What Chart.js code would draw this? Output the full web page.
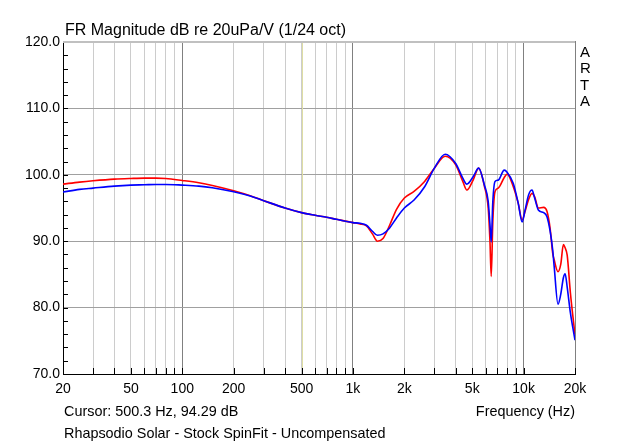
<!DOCTYPE html>
<html>
<head>
<meta charset="utf-8">
<script src="https://cdn.jsdelivr.net/npm/chart.js@4/dist/chart.umd.min.js"></script>
<style>
html,body{margin:0;padding:0;background:#fff;}
#wrap{width:640px;height:444px;position:relative;}
</style>
</head>
<body>
<div id="wrap"><canvas id="c" width="640" height="444"></canvas></div>
<script>
// ---- data ----
const freqs = [20,25,30,40,50,60,70,80,100,125,150,200,250,300,400,500,600,700,800,1000,1100,1200,1300,1390,1500,1640,1800,2000,2280,2630,3000,3470,4000,4400,4650,5060,5450,5900,6200,6350,6460,6600,6800,7100,7700,8000,8700,9300,9800,10200,10700,11200,11600,12200,13100,13700,14300,14800,15100,15900,16500,17100,17500,18000,18800,20000];
const redDb = [98.6,98.9,99.1,99.35,99.45,99.5,99.5,99.45,99.15,98.8,98.4,97.6,96.85,96.1,95.0,94.3,93.9,93.6,93.3,92.8,92.6,92.3,91.1,90.0,90.4,92.4,94.8,96.5,97.5,99.0,101.0,102.8,101.5,99.0,97.7,99.2,101.0,98.2,95.0,90.0,84.7,93.0,97.5,98.0,99.6,100.1,98.2,95.7,93.2,94.5,96.3,97.2,96.7,95.0,95.1,94.5,91.9,88.2,87.2,85.4,86.5,89.5,89.0,87.9,82.2,75.9];
const blueDb = [97.4,97.8,98.0,98.3,98.45,98.5,98.55,98.55,98.45,98.3,98.05,97.45,96.8,96.1,95.0,94.3,93.9,93.6,93.3,92.8,92.7,92.4,91.5,90.9,91.1,92.0,93.5,95.0,96.2,98.2,101.0,103.1,101.7,99.5,98.6,99.7,101.0,98.4,96.0,92.5,89.9,96.0,99.0,99.2,100.7,100.4,98.7,95.7,92.9,94.7,97.0,97.7,96.5,94.7,94.3,93.7,91.5,88.7,86.2,80.5,82.0,84.5,85.1,83.1,79.2,75.1];
const gridFreqs = [20,30,40,50,60,70,80,90,100,200,300,400,500,600,700,800,900,1000,2000,3000,4000,5000,6000,7000,8000,9000,10000,20000];
const xTickLabels = {20:'20',50:'50',100:'100',200:'200',500:'500',1000:'1k',2000:'2k',5000:'5k',10000:'10k',20000:'20k'};
const yTicks = [70,80,90,100,110,120];
const cursorFreq = 500;
const titleText = 'FR Magnitude dB re 20uPa/V (1/24 oct)';
const cursorText = 'Cursor: 500.3 Hz, 94.29 dB';
const xTitle = 'Frequency (Hz)';
const caption = 'Rhapsodio Solar - Stock SpinFit - Uncompensated';
const brand = ['A','R','T','A'];

const FONT = '"Liberation Sans", Arial, sans-serif';

const decorPlugin = {
  id: 'decor',
  beforeDatasetsDraw(chart) {
    const {ctx, chartArea: a, scales: {x}} = chart;
    ctx.save();
    const cx = Math.round(x.getPixelForValue(cursorFreq)) + 0.5;
    ctx.strokeStyle = '#dedea4';
    ctx.lineWidth = 1;
    ctx.beginPath(); ctx.moveTo(cx, a.top); ctx.lineTo(cx, a.bottom); ctx.stroke();
    ctx.restore();
  },
  afterDraw(chart) {
    const {ctx, chartArea: a, scales: {x, y}} = chart;
    ctx.save();
    ctx.strokeStyle = '#c0c0c0';
    ctx.lineWidth = 2;
    ctx.beginPath(); ctx.moveTo(a.left, a.top); ctx.lineTo(a.right, a.top); ctx.stroke();
    ctx.strokeStyle = '#808080';
    ctx.lineWidth = 1;
    ctx.beginPath(); ctx.moveTo(a.right + 0.5, a.top - 1); ctx.lineTo(a.right + 0.5, a.bottom); ctx.stroke();
    ctx.strokeStyle = '#000';
    for (let v = 72; v < 120; v += 2) {
      const py = Math.round(y.getPixelForValue(v)) + 0.5;
      ctx.beginPath(); ctx.moveTo(a.left, py); ctx.lineTo(a.left + 5, py); ctx.stroke();
    }
    gridFreqs.forEach(f => {
      const px = Math.round(x.getPixelForValue(f)) + 0.5;
      ctx.beginPath(); ctx.moveTo(px, a.bottom); ctx.lineTo(px, a.bottom - 6); ctx.stroke();
    });
    ctx.fillStyle = '#000';
    ctx.textBaseline = 'alphabetic';
    ctx.textAlign = 'left';
    ctx.font = '16px ' + FONT;
    ctx.fillText(titleText, 65, 35);
    ctx.font = '14.4px ' + FONT;
    ctx.fillText(cursorText, 64, 416);
    ctx.fillText(caption, 64, 438);
    ctx.textAlign = 'right';
    ctx.fillText(xTitle, 575, 416);
    ctx.textAlign = 'left';
    ctx.font = '15px ' + FONT;
    brand.forEach((ch, i) => ctx.fillText(ch, 580, 57 + i * 16.4));
    ctx.restore();
  }
};

new Chart(document.getElementById('c'), {
  type: 'line',
  data: {
    datasets: [
      { label: 'blue', data: freqs.map((f, i) => ({x: f, y: blueDb[i]})), borderColor: '#0000ff', borderWidth: 1.6, pointRadius: 0, cubicInterpolationMode: 'monotone', fill: false },
      { label: 'red', data: freqs.map((f, i) => ({x: f, y: redDb[i]})), borderColor: '#ff0000', borderWidth: 1.6, pointRadius: 0, cubicInterpolationMode: 'monotone', fill: false }
    ]
  },
  options: {
    responsive: false,
    animation: false,
    devicePixelRatio: 1,
    layout: { padding: { left: 0, right: 65, top: 42, bottom: 0 } },
    plugins: { legend: { display: false }, tooltip: { enabled: false }, title: { display: false } },
    scales: {
      x: {
        type: 'logarithmic', min: 20, max: 20000,
        afterBuildTicks: (s) => { s.ticks = gridFreqs.map(v => ({value: v})); },
        afterFit: (s) => { s.height = 70; },
        ticks: {
          autoSkip: false, maxRotation: 0, minRotation: 0, padding: 7,
          color: '#000', font: { family: FONT, size: 14 },
          callback: (v) => xTickLabels[v] || ''
        },
        grid: {
          drawTicks: false,
          color: (c) => { const v = c.tick && c.tick.value; return (v === 100 || v === 1000 || v === 10000 || v === 20000) ? '#808080' : '#cccccc'; },
          lineWidth: 1
        },
        border: { color: '#000', width: 1 }
      },
      y: {
        type: 'linear', min: 70, max: 120,
        afterBuildTicks: (s) => { s.ticks = yTicks.map(v => ({value: v})); },
        afterFit: (s) => { s.width = 63; },
        ticks: {
          padding: 3, color: '#000', font: { family: FONT, size: 14 },
          callback: (v) => Number(v).toFixed(1)
        },
        grid: { drawTicks: false, color: (c) => (c.tick && c.tick.value === 120) ? '#c0c0c0' : '#a0a0a0', lineWidth: 1 },
        border: { color: '#000', width: 1 }
      }
    }
  },
  plugins: [decorPlugin]
});
</script>
</body>
</html>
